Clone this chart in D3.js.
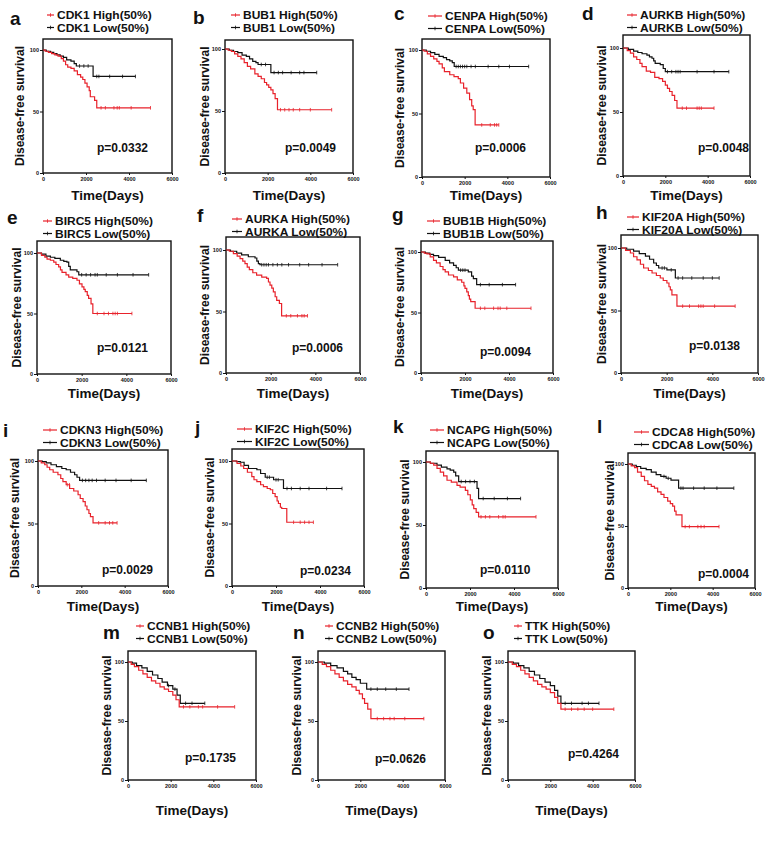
<!DOCTYPE html>
<html>
<head>
<meta charset="utf-8">
<script src="https://cdn.jsdelivr.net/npm/d3@7"></script>
<style>
  body { margin: 0; background: #fff; }
  text { font-family: Arial, "Liberation Sans", sans-serif; font-weight: bold; fill: #111; }
</style>
</head>
<body>
<div class="vis-holder"></div>
<script>
// panel letters, gene names and p values
var letters = ["a","b","c","d","e","f","g","h","i","j","k","l","m","n","o"];
var genes = ["CDK1","BUB1","CENPA","AURKB","BIRC5","AURKA","BUB1B","KIF20A",
             "CDKN3","KIF2C","NCAPG","CDCA8","CCNB1","CCNB2","TTK"];
var pValues = ["0.0332","0.0049","0.0006","0.0048","0.0121","0.0006","0.0094","0.0138",
               "0.0029","0.0234","0.0110","0.0004","0.1735","0.0626","0.4264"];
var xTicks = [0, 2000, 4000, 6000];
var yTicks = [0, 50, 100];

// step points [days, survival %], last point = end of follow-up
var highCurves = [
  [[0,100],[100,99],[250,98],[400,97],[550,96],[700,95],[850,93],[950,91],[1050,88],[1150,86],[1300,85],[1450,83],[1600,80],[1750,78],[1850,76],[1950,73],[2050,70],[2150,67],[2200,62],[2400,59],[2500,53],[5000,53]],
  [[0,100],[150,99],[300,98],[450,96],[600,94],[750,92],[900,89],[1050,86],[1200,84],[1400,80],[1550,78],[1700,76],[1850,73],[1950,71],[2050,69],[2150,67],[2250,64],[2350,60],[2460,51],[5000,51]],
  [[0,100],[100,99],[250,97],[400,95],[550,93],[700,91],[800,89],[950,86],[1050,83],[1300,80.5],[1500,79],[1700,77.5],[1800,74],[1950,70],[2100,66],[2230,61],[2330,56],[2400,53],[2490,41],[3600,41]],
  [[0,100],[200,98],[350,96],[500,93],[650,91],[800,88],[900,85.5],[1100,82],[1300,81],[1500,77],[1700,76],[1870,74],[2000,71],[2100,68.5],[2200,66],[2320,63],[2440,59],[2550,53],[4300,53]],
  [[0,100],[200,98],[350,96.5],[450,95],[600,94],[750,92.5],[850,90.5],[970,88.5],[1050,86],[1120,84],[1300,82],[1420,80],[1600,79],[1790,77.5],[1900,74.5],[2015,72],[2100,70],[2160,68],[2250,65],[2310,62.5],[2420,58],[2500,50],[4250,50]],
  [[0,100],[150,99],[330,97],[500,95],[630,93],[750,91],[850,89],[950,86],[1045,84],[1200,81.5],[1370,79.5],[1600,78],[1820,77],[1900,74],[1970,71.5],[2050,69],[2120,66],[2200,62],[2270,59],[2390,56.5],[2490,46.5],[3650,46.5]],
  [[0,100],[150,99],[270,98.5],[420,96],[570,93],[700,91],[870,88],[1000,85.5],[1100,83.5],[1250,81],[1480,79.5],[1650,77],[1850,75],[1950,72],[2000,70],[2080,67],[2150,64],[2200,61],[2260,59],[2460,53.5],[5000,53.5]],
  [[0,100],[200,98],[410,96],[550,93],[700,90.5],[850,87],[990,84],[1200,82],[1360,80],[1550,78],[1720,76],[1850,74],[2010,72],[2100,69],[2160,66.5],[2230,62.5],[2450,53.5],[5000,53.5]],
  [[0,100],[150,98.5],[310,97],[420,95],[540,93],[700,91],[920,89],[1050,86],[1150,83.5],[1300,81],[1460,78],[1650,76],[1850,73],[1950,70],[2080,67.5],[2180,64],[2260,61],[2350,58],[2420,55.5],[2540,50.5],[3650,50.5]],
  [[0,100],[230,98],[400,96],[530,94],[700,91],[900,87.5],[1000,85],[1130,83.5],[1300,81],[1430,79.5],[1600,78],[1740,77],[1850,74],[1960,71.5],[2050,68],[2110,66],[2200,63],[2260,62],[2490,51],[3700,51]],
  [[0,100],[200,99],[350,97.5],[500,95],[650,92],[800,89],[955,85.5],[1150,84],[1410,81.5],[1550,80],[1790,77.5],[1900,74],[2015,70],[2100,66],[2170,63],[2280,60],[2390,56.5],[5000,56.5]],
  [[0,100],[150,98.5],[310,97],[450,93.5],[625,90],[780,86.5],[940,83.5],[1100,82],[1250,80.5],[1400,77.5],[1560,75.5],[1700,73],[1875,70],[2000,68],[2110,66],[2200,62],[2270,59],[2550,49.5],[4300,49.5]],
  [[0,100],[150,98],[300,96],[500,93],[700,90],[900,87],[1100,84],[1300,82],[1500,79],[1700,77],[1900,75],[2100,72],[2250,68],[2400,62],[5000,62]],
  [[0,100],[200,98],[400,96],[600,93],[800,90],[1000,87],[1200,84],[1400,81],[1600,79],[1800,76],[1950,73],[2100,69],[2200,65],[2350,60],[2500,52],[5000,52]],
  [[0,100],[200,98],[400,96],[600,93],[800,90],[1000,87],[1200,84],[1400,81],[1600,79],[1800,77],[2000,74],[2200,70],[2350,65],[2500,60],[5000,60]]
];
var lowCurves = [
  [[0,100],[150,99],[350,98],[500,97],[650,96],[800,95],[950,94],[1100,92],[1300,91],[1450,89],[1550,87],[2330,78.5],[4300,78.5]],
  [[0,100],[200,99],[400,98],[600,97],[800,95],[1000,94],[1150,92],[1300,90],[1450,89],[1550,87.5],[2150,81],[4300,81]],
  [[0,100],[200,99],[400,98],[600,96.5],[800,95],[1000,94],[1150,92.5],[1300,91.5],[1420,90],[1510,87],[5000,87]],
  [[0,100],[250,99],[500,97.5],[700,96.5],[900,95.5],[1130,94.5],[1250,93],[1370,92],[1450,90],[1520,88],[1760,87],[1900,84],[2000,81.5],[5000,81.5]],
  [[0,100],[200,99],[400,97.5],[600,96.5],[800,95.5],[1045,94],[1200,93],[1340,92.5],[1420,89],[1490,86],[1790,84.5],[1870,82],[5000,82]],
  [[0,100],[200,99],[480,97.5],[700,96],[1000,94.5],[1300,93.5],[1380,91],[1450,89],[1520,88],[5000,88]],
  [[0,100],[200,99],[400,98],[570,97],[800,95.5],[1100,93],[1300,91],[1480,89],[1600,87],[1700,85],[2150,83.5],[2300,80],[2380,78],[2530,73],[4300,73]],
  [[0,100],[250,99],[550,97.5],[800,95.5],[1070,93.5],[1250,91],[1430,88],[1550,86],[1650,84],[2010,82.5],[2380,76],[4300,76]],
  [[0,100],[200,99.5],[380,98.5],[600,97],[850,95.5],[1100,94],[1300,93],[1500,91],[1690,89],[1800,87],[1920,84.5],[5000,84.5]],
  [[0,100],[200,99.5],[380,99],[550,96.5],[750,94],[1130,93],[1300,90],[1510,87],[1890,85],[2340,78],[5000,78]],
  [[0,100],[200,99],[500,97.5],[700,96],[955,94.5],[1100,93.5],[1260,92],[1350,89],[1485,84.5],[2320,79],[2390,71],[4300,71]],
  [[0,100],[200,99],[390,98],[600,96.5],[860,95.5],[1100,93.5],[1330,91.5],[1550,90],[1800,88.5],[2030,87],[2390,80.5],[5000,80.5]],
  [[0,100],[200,99],[400,97],[650,95],[900,92],[1150,89],[1400,86],[1600,83],[1850,80],[2100,77],[2300,72],[2450,65],[3600,65]],
  [[0,100],[300,99],[600,97],[900,95],[1200,92],[1400,90],[1600,87],[1800,85],[2000,82],[2300,77],[4300,77]],
  [[0,100],[250,99],[500,97],[750,95],[1000,92],[1250,89],[1500,86],[1750,83],[2000,80],[2200,76],[2350,71],[2500,65],[4300,65]]
];
// censored times (days)
var highCensors = [
  [2700,2900,3300,3450,3550,4100,5000], [2600,2800,3000,3200,3500,4000,5000],
  [2800,3200,3400,3500,3600], [2800,3000,3500,3600,3700,4300],
  [2700,3000,3200,3400,3500,3600,4250], [2700,2900,3200,3400,3500,3650],
  [2700,2900,3300,3500,3600,3900,5000], [2700,3000,3400,3500,3600,4100,5000],
  [1350,1450,2800,3100,3300,3450,3650], [2800,3100,3300,3500,3700],
  [2500,2700,2900,3300,3500,3600,5000], [2700,2900,3300,3450,3600,4300],
  [2600,2900,3300,3500,4200,5000], [2800,3100,3400,3600,4100,5000],
  [2700,3000,3300,3600,4000,5000]
];
var lowCensors = [
  [1700,1900,2100,2500,2600,3100,3700,4300], [1700,1900,2300,2500,2700,3100,3500,3700,4300],
  [1600,1700,1800,1900,2000,2100,2300,2500,3100,3600,4100,5000], [2100,2300,2500,2600,2700,3500,4300,5000],
  [2000,2200,2400,2600,2700,3100,3600,4300,5000], [1600,1700,1800,1900,2100,2300,2500,2800,3300,3700,4300,5000],
  [1800,1900,2000,2700,3100,3700,4300], [1800,1900,2200,2500,2700,3100,3600,4000,4300],
  [2050,2200,2350,2500,2700,3100,3600,4300,5000], [1600,1700,2000,2100,2500,2700,3100,3500,4300,5000],
  [1600,1800,2000,2200,2600,3100,3700,4300], [1700,1900,2500,2600,3100,3600,4200,5000],
  [1900,2200,2700,3000,3600], [2500,2800,3200,3700,4300], [2700,3000,3500,3800,4300]
];

// page layout of each panel (pixels)
var layout = [
  {x0:43,  x1:172, y0:173, y100:50,  top:39,  lx:10,  ly:25,  gx:47,  gt:57,  gy:15,  yl:20,  px:97,  py:152, ty:200},
  {x0:225, x1:353, y0:173, y100:49,  top:40,  lx:193, ly:24,  gx:231, gt:243, gy:15,  yl:205, px:285, py:152, ty:200},
  {x0:422, x1:550, y0:177, y100:50,  top:39,  lx:394, ly:20,  gx:428, gt:445, gy:16,  yl:400, px:475, py:152, ty:200},
  {x0:623, x1:750, y0:176, y100:48,  top:35,  lx:582, ly:20,  gx:627, gt:640, gy:15,  yl:602, px:698, py:152, ty:200},
  {x0:37,  x1:171, y0:374, y100:253, top:241, lx:7,   ly:224, gx:43,  gt:55,  gy:221, yl:17,  px:97,  py:352, ty:398},
  {x0:226, x1:360, y0:373, y100:250, top:237, lx:197, ly:222, gx:232, gt:245, gy:219, yl:205, px:292, py:352, ty:398},
  {x0:421, x1:553, y0:373, y100:252, top:241, lx:392, ly:221, gx:427, gt:443, gy:221, yl:400, px:480, py:356, ty:398},
  {x0:621, x1:758, y0:373, y100:248, top:235, lx:596, ly:219, gx:627, gt:642, gy:217, yl:602, px:689, py:350, ty:398},
  {x0:38,  x1:168, y0:586, y100:461, top:450, lx:3,   ly:437, gx:43,  gt:60,  gy:430, yl:15,  px:102, py:574, ty:611},
  {x0:232, x1:364, y0:586, y100:461, top:449, lx:195, ly:434, gx:237, gt:255, gy:429, yl:210, px:300, py:575, ty:611},
  {x0:426, x1:558, y0:588, y100:462, top:451, lx:393, ly:433, gx:430, gt:447, gy:430, yl:405, px:480, py:574, ty:611},
  {x0:628, x1:755, y0:588, y100:464, top:453, lx:597, ly:433, gx:634, gt:652, gy:432, yl:610, px:698, py:578, ty:611},
  {x0:128, x1:256, y0:780, y100:662, top:651, lx:103, ly:639, gx:136, gt:147, gy:626, yl:107, px:185, py:762, ty:815},
  {x0:318, x1:445, y0:780, y100:662, top:651, lx:293, ly:639, gx:325, gt:336, gy:626, yl:297, px:375, py:763, ty:815},
  {x0:508, x1:635, y0:780, y100:662, top:651, lx:483, ly:639, gx:514, gt:525, gy:626, yl:487, px:568, py:758, ty:815}
];

var red = "#e8222b";
var black = "#111";

var width = 769, height = 844;
var svg = d3.select(".vis-holder")
      .append("svg")
      .attr("width", width)
      .attr("height", height);

// survival value at a time, from the step points
function survivalAt(curve, t) {
  var s = curve[0][1];
  curve.forEach(function(p){ if (p[0] <= t) s = p[1]; });
  return s;
}

layout.forEach(function(L, i) {
  var g = svg.append("g").attr("class", "panel");

  var xScale = d3.scaleLinear().domain([0, 6000]).range([L.x0, L.x1]);
  var yScale = d3.scaleLinear().domain([0, 100]).range([L.y0, L.y100]);

  // frame
  g.append("rect")
    .attr("x", L.x0).attr("y", L.top)
    .attr("width", L.x1 - L.x0).attr("height", L.y0 - L.top)
    .attr("fill", "none").attr("stroke", black).attr("stroke-width", 1.4);

  var xAxis = d3.axisBottom(xScale).tickValues(xTicks).tickFormat(d3.format("d"))
    .tickSize(2).tickPadding(2);
  var gx = g.append("g")
    .attr("transform", "translate(0," + L.y0 + ")")
    .call(xAxis);
  var yAxis = d3.axisLeft(yScale).tickValues(yTicks).tickFormat(d3.format("d"))
    .tickSize(3).tickPadding(1);
  var gy = g.append("g")
    .attr("transform", "translate(" + L.x0 + ",0)")
    .call(yAxis);
  [gx, gy].forEach(function(a){
    a.select(".domain").remove();
    a.selectAll("line").attr("stroke", black).attr("stroke-width", 1);
    a.selectAll("text").style("font-size", "5.5px").style("font-weight", "bold")
      .attr("fill", black).style("font-family", "Arial, 'Liberation Sans', sans-serif");
  });

  var line = d3.line()
    .x(function(d){ return xScale(d[0]); })
    .y(function(d){ return yScale(d[1]); })
    .curve(d3.curveStepAfter);

  var series = [
    {curve: lowCurves[i], cens: lowCensors[i], color: black},
    {curve: highCurves[i], cens: highCensors[i], color: red}
  ];
  series.forEach(function(s) {
    g.append("path")
      .attr("d", line(s.curve))
      .attr("fill", "none")
      .attr("stroke", s.color)
      .attr("stroke-width", 1.2);
    g.selectAll(null)
      .data(s.cens)
      .enter().append("line")
      .attr("x1", function(t){ return xScale(t); })
      .attr("x2", function(t){ return xScale(t); })
      .attr("y1", function(t){ return yScale(survivalAt(s.curve, t)) - 1.8; })
      .attr("y2", function(t){ return yScale(survivalAt(s.curve, t)) + 1.8; })
      .attr("stroke", s.color)
      .attr("stroke-width", 0.8);
  });

  // panel letter
  g.append("text")
    .attr("x", L.lx).attr("y", L.ly)
    .style("font-size", "19px")
    .text(letters[i]);

  // legend (slightly smaller font, stretched back to the reference width)
  var legendRows = [
    {label: genes[i] + " High(50%)", color: red},
    {label: genes[i] + " Low(50%)", color: black}
  ];
  legendRows.forEach(function(r, k) {
    var yy = L.gy + k * 12.5;
    g.append("line")
      .attr("x1", L.gx).attr("x2", L.gt - 3)
      .attr("y1", yy).attr("y2", yy)
      .attr("stroke", r.color).attr("stroke-width", 1.2);
    g.append("line")
      .attr("x1", (L.gx + L.gt - 3) / 2).attr("x2", (L.gx + L.gt - 3) / 2)
      .attr("y1", yy - 1.8).attr("y2", yy + 1.8)
      .attr("stroke", r.color).attr("stroke-width", 0.8);
    var t = g.append("text")
      .attr("x", L.gt).attr("y", yy + 4.2)
      .style("font-size", "11px")
      .text(r.label);
    var w = t.node().getComputedTextLength();
    t.attr("textLength", w * 12 / 11).attr("lengthAdjust", "spacingAndGlyphs");
  });

  // axis titles
  g.append("text")
    .attr("transform", "translate(" + (L.yl + 4) + "," + ((L.top + L.y0) / 2) + ") rotate(-90)")
    .style("text-anchor", "middle")
    .style("font-size", "12px")
    .text("Disease-free survival");

  g.append("text")
    .attr("x", (L.x0 + L.x1) / 2).attr("y", L.ty)
    .style("text-anchor", "middle")
    .style("font-size", "13.5px")
    .text("Time(Days)");

  // p value
  g.append("text")
    .attr("x", L.px).attr("y", L.py)
    .style("font-size", "12px")
    .text("p=" + pValues[i]);
});
</script>
</body>
</html>
